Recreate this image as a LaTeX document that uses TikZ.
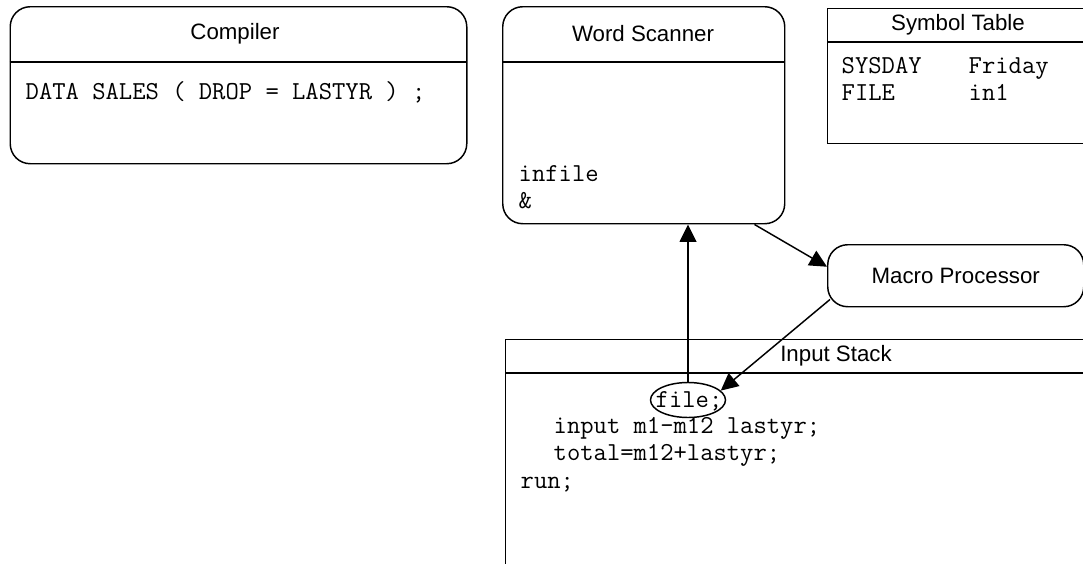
\documentclass[tikz,border=0pt]{standalone}
\usepackage{fontspec}
\setmainfont{Liberation Sans}
\usetikzlibrary{arrows.meta,shapes.geometric}
\begin{document}
\begin{tikzpicture}[x=0.75pt,y=-0.75pt, line width=1.1pt,
  box/.style={draw, inner sep=0pt, anchor=north west},
  rbox/.style={box, rounded corners=15pt},
  title/.style={font=\fontsize{16.7pt}{20pt}\selectfont, inner sep=0pt},
  code/.style={font=\ttfamily\fontsize{19.4pt}{22pt}\selectfont, anchor=base west, inner sep=0pt},
  arr/.style={-{Triangle[length=13pt,width=12.5pt]}, line width=1.1pt}]
\useasboundingbox (0,0) rectangle (1083,564);
\clip (0,0) rectangle (1083,564);

% Compiler
\node[rbox, minimum width=342.4pt, minimum height=117.75pt] (compiler) at (9.5,6) {};
\draw (9.5,62) -- (466,62);
\node[title] (compilerT) at (235,34) {Compiler};
\node[code] (c1) at (25,99.5) {DATA SALES ( DROP = LASTYR ) ;};

% Word Scanner
\node[rbox, minimum width=211.5pt, minimum height=162.75pt] (scanner) at (502,6) {};
\draw (502,62) -- (784,62);
\node[title] (scannerT) at (643,34) {Word Scanner};
\node[code] (w1) at (518,181) {infile};
\node[code] (w2) at (518,208) {\&};

% Symbol Table
\node[box, minimum width=196.5pt, minimum height=101.25pt] (symtab) at (827,8) {};
\draw (827,42) -- (1089,42);
\node[title] (symtabT) at (958,25) {Symbol Table};
\node[code] (s1) at (841,73) {SYSDAY};
\node[code] (s2) at (968,73) {Friday};
\node[code] (s3) at (841,100) {FILE};
\node[code] (s4) at (968,100) {in1};

% Macro Processor
\node[rbox, minimum width=192pt, minimum height=46.5pt, font=\fontsize{16.7pt}{20pt}\selectfont] (macro) at (827,244) {Macro Processor};

% Input Stack
\node[box, minimum width=496.5pt, minimum height=187.5pt] (stack) at (505,339) {};
\draw (505,373) -- (1167,373);
\node[title] (stackT) at (836,356) {Input Stack};
\node[draw, ellipse, inner sep=0pt, minimum width=56.25pt, minimum height=26.25pt] (file) at (688,400) {};
\node[code] (fileT) at (655,407) {file;};
\node[code] (i1) at (553,433) {input m1-m12 lastyr;};
\node[code] (i2) at (553,460) {total=m12+lastyr;};
\node[code] (i3) at (520,488) {run;};

% Connectors
\draw[arr] (file.north) -- (file.north |- scanner.south);
\draw[arr] ([xshift=-23.25pt]scanner.south east) -- ([yshift=6.75pt]macro.west);
\draw[arr] ([xshift=2.25pt,yshift=6pt]macro.south west) -- (file.16);
\end{tikzpicture}
\end{document}
